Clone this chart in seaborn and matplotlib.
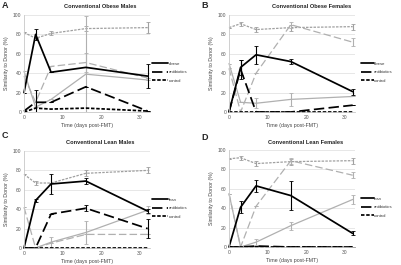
import numpy as np
import pandas as pd
import matplotlib
matplotlib.use("Agg")
import matplotlib.pyplot as plt
import seaborn as sns

sns.set_style("white")
plt.rcParams['font.family'] = ['Liberation Sans', 'DejaVu Sans']

days = [0, 3, 7, 16, 32]

titles = ["Conventional Obese Males", "Conventional Obese Females",
          "Conventional Lean Males", "Conventional Lean Females"]
letters = ["A", "B", "C", "D"]
main_labels = ["obese", "obese", "lean", "lean"]

# black series (in legend)
main_vals = [[20, 80, 41, 46, 37], [0, 46, 59, 52, 21],
             [0, 49, 66, 69, 38], [0, 41, 63, 53, 14]]
main_err = [[0, 6, 0, 0, 12], [0, 8, 9, 3, 3],
            [0, 2, 10, 3, 2], [0, 6, 6, 15, 2]]
abx_vals = [[1, 10, 10, 26, 1], [0, 44, 0, 0, 7],
            [0, 0, 35, 41, 20], [0, 0, 1, 0, 0]]
abx_err = [[0, 13, 0, 0, 0], [0, 10, 0, 0, 0],
           [0, 0, 0, 3, 10], [0, 0, 0, 0, 0]]
ctl_vals = [[0, 4, 3, 4, 1], [0, 0, 0, 0, 0],
            [0, 0, 0, 0, 0], [0, 0, 0, 0, 0]]

# gray series (similarity to other donor, not in legend)
g_ctl_vals = [[82, 76, 81, 86, 87], [87, 91, 85, 87, 88],
              [76, 67, 67, 77, 80], [91, 92, 86, 88, 89]]
g_ctl_err = [[0, 0, 2, 3, 6], [0, 2, 3, 3, 3],
             [0, 2, 0, 3, 3], [0, 2, 3, 3, 3]]
g_abx_vals = [[37, 10, 47, 51, 35], [45, 0, 40, 90, 72],
              [42, 0, 5, 14, 14], [55, 0, 42, 89, 74]]
g_abx_err = [[0, 0, 0, 10, 0], [0, 0, 0, 3, 4],
             [0, 0, 0, 0, 0], [0, 0, 0, 3, 3]]
g_main_vals = [[42, 5, 13, 39, 33], [50, 10, 9, 13, 16],
               [0, 0, 6, 16, 39], [55, 0, 5, 22, 49]]
g_main_err = [[0, 0, 0, 60, 0], [0, 0, 5, 7, 0],
              [0, 0, 5, 12, 4], [0, 0, 3, 4, 5]]

fig = plt.figure(figsize=(4.01, 2.65), dpi=100)
W, H = 401, 265
ax_pos = [(24, 15), (229, 15), (24, 151), (229, 150)]
ax_w, ax_h = 126, 97
title_pos = [(100, 6), (312, 6), (100, 142), (306, 142)]
letter_pos = [(2, 5), (201, 5), (2, 136), (201, 137)]
leg_anchor = [1.016, 1.048, 1.016, 1.048]
leg_handle = [3.8, 2.9, 3.8, 2.9]

LONG = (6, 2.5)
SHORT = (2, 1)
gray1 = "#b0b0b0"
gray2 = "#a0a0a0"

for i in range(4):
    x0, y0 = ax_pos[i]
    ax = fig.add_axes([x0 / W, 1 - (y0 + ax_h) / H, ax_w / W, ax_h / H])
    ax.set_xlim(0, 32.6)
    ax.set_ylim(0, 100)

    series = [
        (g_ctl_vals[i], g_ctl_err[i], gray2, SHORT, 0.9, None),
        (g_abx_vals[i], g_abx_err[i], gray1, LONG, 0.9, None),
        (g_main_vals[i], g_main_err[i], gray1, None, 0.9, None),
        (ctl_vals[i], None, "black", SHORT, 1.25, "control"),
        (abx_vals[i], abx_err[i], "black", LONG, 1.25, "antibiotics"),
        (main_vals[i], main_err[i], "black", None, 1.25, main_labels[i]),
    ]
    handles = {}
    for vals, err, col, dash, lw, lab in series:
        df = pd.DataFrame({"day": days, "sim": vals})
        sns.lineplot(data=df, x="day", y="sim", ax=ax, color=col, lw=lw,
                     legend=False, errorbar=None)
        line = ax.lines[-1]
        if dash is not None:
            line.set_dashes(dash)
        line.set_clip_on(False)
        if lab is not None:
            handles[lab] = line
        if err is not None:
            ax.errorbar(days, vals, yerr=err, fmt="none", ecolor=col,
                        elinewidth=0.8, capsize=1.2, capthick=0.6, clip_on=True)

    ax.set_yticks([0, 20, 40, 60, 80, 100])
    ax.set_xticks([0, 10, 20, 30])
    ax.yaxis.grid(True, color="#e3e3e3", lw=0.6)
    ax.set_axisbelow(True)
    for s in ["top", "right"]:
        ax.spines[s].set_visible(False)
    for s in ["left", "bottom"]:
        ax.spines[s].set_color("#c8c8c8")
        ax.spines[s].set_linewidth(0.6)
    ax.tick_params(axis="both", labelsize=3.6, colors="#555555", length=0, pad=2)
    ax.set_xlabel("Time (days post-FMT)", fontsize=3.8, color="#444444", labelpad=2)
    ax.set_ylabel("Similarity to Donor (%)", fontsize=3.8, color="#444444", labelpad=3)

    order = [main_labels[i], "antibiotics", "control"]
    leg = ax.legend([handles[k] for k in order], order, loc="center left",
                    bbox_to_anchor=(leg_anchor[i], 0.41), frameon=False, fontsize=3.1,
                    handlelength=leg_handle[i], handletextpad=0.15, labelspacing=1.0,
                    borderaxespad=0.0, borderpad=0.0)
    for t in leg.get_texts():
        t.set_color("#333333")

    tx, ty = title_pos[i]
    fig.text(tx / W, 1 - ty / H, titles[i], fontsize=4.1, fontweight="bold",
             color="#222222", ha="center", va="center")
    lx, ly = letter_pos[i]
    fig.text(lx / W, 1 - ly / H, letters[i], fontsize=6.5,
             fontweight="bold", va="center", ha="left")

fig.savefig("out.png", dpi=100)
